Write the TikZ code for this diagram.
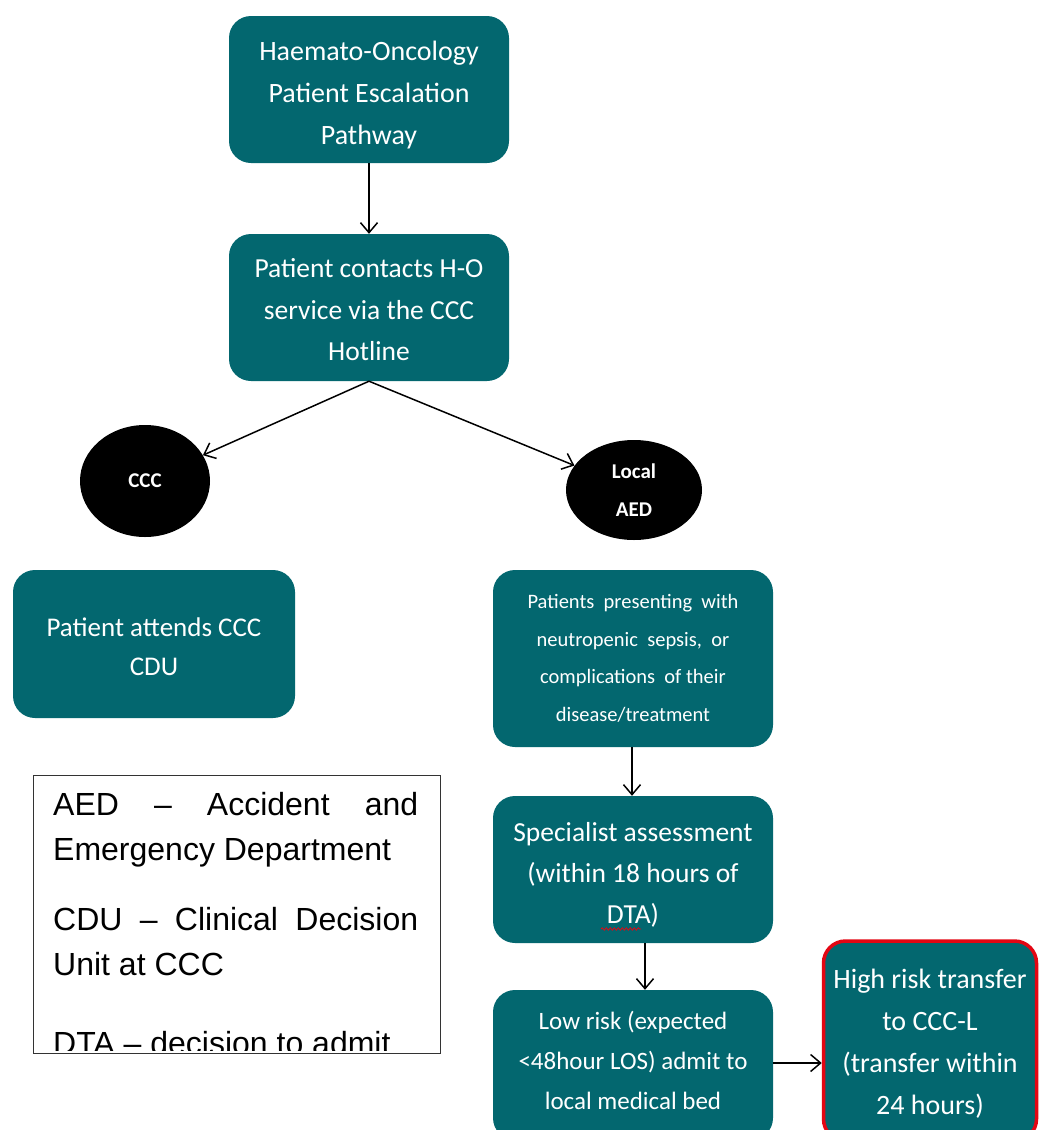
\documentclass[tikz,border=0pt]{standalone}
\usepackage{fontspec}
\setmainfont{Carlito}
\newfontfamily\legendfont{Liberation Sans}
\usetikzlibrary{arrows.meta,shapes.geometric,decorations.pathmorphing}

\definecolor{pathteal}{HTML}{03676F}
\definecolor{alertred}{HTML}{E30613}

% struts that shift a block of centred lines inside a box
\newcommand{\toplift}[1]{\rule{0pt}{#1}}
\newcommand{\bottomdrop}[1]{\rule[-#1]{0pt}{0pt}}

\tikzset{
  stepbox/.style={rectangle, rounded corners=22pt, fill=pathteal, draw=none,
    text=white, align=center, inner sep=4pt},
  bubble/.style={ellipse, fill=black, draw=none, text=white, align=center,
    font=\bfseries\fontsize{21}{38}\selectfont},
  flow/.style={draw=black, line width=1.5pt, -{Straight Barb[length=10pt,width=17pt,line width=1.5pt]}},
}

\begin{document}
\begin{tikzpicture}[x=1pt,y=-1pt]
\useasboundingbox (0,0) rectangle (1039,1130);
\clip (0,0) rectangle (1039,1130);

% main pathway
\node[stepbox, minimum width=280pt, minimum height=147pt,
      font=\fontsize{28}{42}\selectfont] (title) at (369,89.5)
  {\toplift{30pt}Haemato-Oncology\\Patient Escalation\\Pathway};
\node[stepbox, minimum width=280pt, minimum height=147pt,
      font=\fontsize{27.5}{41.5}\selectfont] (hotline) at (369,307.5)
  {\toplift{24pt}Patient contacts H-O\\service via the CCC\\Hotline};

% branches
\node[bubble, minimum width=130pt, minimum height=112pt] (ccc) at (145,481) {CCC};
\node[bubble, minimum width=136pt, minimum height=100pt] (aed) at (634,490) {Local\\AED};

\node[stepbox, minimum width=282pt, minimum height=148pt,
      font=\fontsize{27}{39}\selectfont] (cdu) at (154,644)
  {\toplift{25pt}Patient attends CCC\\CDU};

\node[stepbox, minimum width=280pt, minimum height=177pt,
      font=\fontsize{20.5}{37.5}\selectfont] (present) at (633,658.5)
  {Patients~~presenting~~with\\neutropenic~~sepsis,~~or\\complications~~of~their\\disease/treatment};

\node[stepbox, minimum width=280pt, minimum height=147pt,
      font=\fontsize{27.5}{41}\selectfont] (spec) at (633,869.5)
  {\toplift{29pt}Specialist assessment\\(within 18 hours of\\DTA)};

\node[stepbox, minimum width=280pt, minimum height=150pt,
      font=\fontsize{25}{40}\selectfont] (low) at (633,1065)
  {Low risk (expected\\<48hour LOS) admit to\\local medical bed\bottomdrop{9pt}};

\node[stepbox, draw=alertred, line width=3.5pt, minimum width=213pt, minimum height=200pt,
      font=\fontsize{28}{42}\selectfont] (high) at (930,1041)
  {\toplift{24pt}High risk transfer\\to CCC-L\\(transfer within\\24 hours)};

% spell-check underline below DTA
\draw[alertred, line width=0.8pt, decorate,
      decoration={snake, amplitude=1.2pt, segment length=4pt}]
  (601,929) -- (641,929);

% connectors
\draw[flow] (title.south) -- (hotline.north);
\draw[flow] (hotline.south) -- (ccc);
\draw[flow] (hotline.south) -- (aed);
\draw[flow] ([xshift=-1pt]present.south) -- ([xshift=-1pt]present.south |- spec.north);
\draw[flow] ([xshift=12pt]spec.south) -- ([xshift=12pt]spec.south |- low.north);
\coordinate (lowout) at (low.east |- 0,1063);
\draw[flow] (lowout) -- (high.west |- lowout);

% abbreviations legend
\node[draw=black!80, line width=0.8pt, minimum width=407pt, minimum height=278pt,
      inner sep=0pt] (legend) at (236.5,914) {};
\begin{scope}
  \clip ([yshift=3pt]legend.south west) rectangle (legend.north east);
  \node[anchor=north west, inner sep=0pt, text width=365pt, align=justify,
        font=\legendfont\fontsize{32}{45}\selectfont] (legendtext) at (53,792)
  {\hyphenpenalty=10000 \tolerance=10000
   AED – Accident and Emergency Department\par\vspace{25pt}
   CDU – Clinical Decision Unit at CCC\par\vspace{34pt}
   DTA – decision to admit};
\end{scope}
\end{tikzpicture}
\end{document}
